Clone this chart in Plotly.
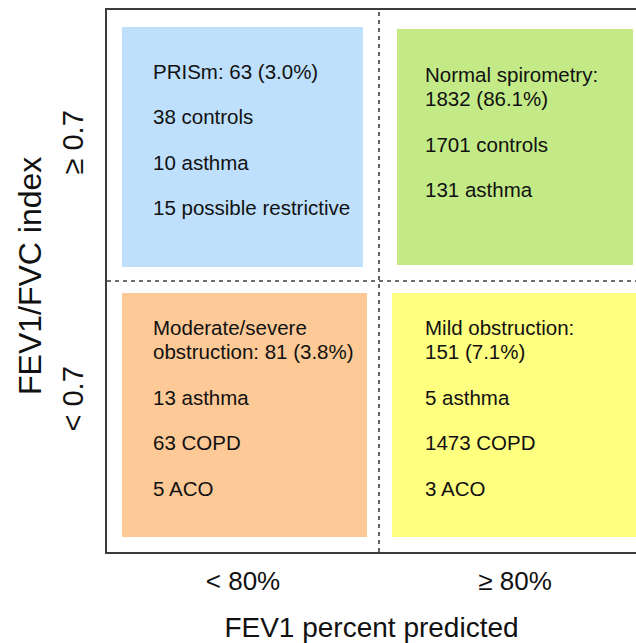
import plotly.graph_objects as go

# ---------------- data ----------------
fev1_labels = ["< 80%", "≥ 80%"]          # x categories (FEV1 percent predicted)
ratio_labels = ["< 0.7", "≥ 0.7"]         # y categories (FEV1/FVC index)

quad_col = [0, 1, 0, 1]                   # column index of each quadrant
quad_row = [1, 1, 0, 0]                   # row index of each quadrant
quad_header = [
    "PRISm: {n} ({p:.1f}%)",
    "Normal spirometry:|{n} ({p:.1f}%)",
    "Moderate/severe|obstruction: {n} ({p:.1f}%)",
    "Mild obstruction:|{n} ({p:.1f}%)",
]
quad_totals = [63, 1832, 81, 151]
quad_pcts = [3.0, 86.1, 3.8, 7.1]
sub_counts = [[38, 10, 15], [1701, 131], [13, 63, 5], [5, 1473, 3]]
sub_labels = [
    ["controls", "asthma", "possible restrictive"],
    ["controls", "asthma"],
    ["asthma", "COPD", "ACO"],
    ["asthma", "COPD", "ACO"],
]

# ---------------- style ----------------
quad_colors = ["#BEE0FC", "#C3EA87", "#FDC996", "#FFFF80"]
# box insets inside each cell (left, right, bottom, top) as fraction of the cell
box_inset = [
    (0.055, 0.059, 0.052, 0.063),
    (0.066, 0.066, 0.059, 0.070),
    (0.055, 0.044, 0.055, 0.044),
    (0.048, -0.05, 0.055, 0.044),
]
PX_X = 272.0   # px per data unit (x)
PX_Y = 271.0   # px per data unit (y)
first_line_px = [61, 64, 46, 46]
intra_px = 24.5
inter_px = 45.5
text_x_inset = 0.162
row_label_shift = [17, 3]                 # px shift of the row labels
FONT = "Liberation Sans, Arial, Helvetica, sans-serif"
INK = "#111111"
FRAME = "#3c3c3c"

fig = go.Figure()
shapes = []
annotations = []

for q in range(4):
    c, r = quad_col[q], quad_row[q]
    l, rr, b, t = box_inset[q]
    shapes.append(dict(type="rect", xref="x", yref="y",
                       x0=c + l, x1=c + 1 - rr, y0=r + b, y1=r + 1 - t,
                       fillcolor=quad_colors[q], line=dict(width=0), layer="below"))
    header = quad_header[q].format(n=quad_totals[q], p=quad_pcts[q]).split("|")
    items = [header] + [[f"{n} {lab}"] for n, lab in zip(sub_counts[q], sub_labels[q])]
    ypx = first_line_px[q]
    first = True
    for item in items:
        for k, line in enumerate(item):
            if not first:
                ypx += intra_px if k > 0 else inter_px
            first = False
            annotations.append(dict(
                x=c + text_x_inset, y=r + 1 - ypx / PX_Y, xref="x", yref="y",
                text=line, showarrow=False, xanchor="left", yanchor="middle",
                font=dict(family=FONT, size=20.5, color=INK)))

# row (FEV1/FVC) labels, rotated
for i, lab in enumerate(ratio_labels):
    annotations.append(dict(
        x=0, y=i + 0.5, xref="paper", yref="y", text=lab, textangle=-90,
        showarrow=False, xanchor="center", yanchor="middle",
        xshift=-35, yshift=row_label_shift[i],
        font=dict(family=FONT, size=29, color=INK)))
annotations.append(dict(
    x=0, y=1, xref="paper", yref="y", text="FEV1/FVC index", textangle=-90,
    showarrow=False, xanchor="center", yanchor="middle", xshift=-77, yshift=5,
    font=dict(family=FONT, size=32, color=INK)))

# quadrant divider lines (dashed)
shapes.append(dict(type="line", xref="x", yref="y", x0=1, x1=1, y0=0, y1=2,
                   line=dict(color=FRAME, width=1.6, dash="4px,4px"), layer="above"))
shapes.append(dict(type="line", xref="x", yref="y", x0=0, x1=2, y0=1, y1=1,
                   line=dict(color=FRAME, width=1.6, dash="4px,4px"), layer="above"))

# invisible trace to establish axes
fig.add_trace(go.Scatter(x=[0.5, 1.5], y=[0.5, 1.5], mode="markers",
                         marker=dict(opacity=0), hoverinfo="skip", showlegend=False))

W, H = 636, 643
ML, MT = 107, 10
MB = 643 - 552
MR = 0

fig.update_layout(
    width=W, height=H,
    margin=dict(l=ML, r=MR, t=MT, b=MB, pad=0),
    paper_bgcolor="white", plot_bgcolor="white",
    shapes=shapes, annotations=annotations,
    xaxis=dict(range=[0, (W - ML - MR) / PX_X], tickvals=[0.5, 1.5], ticktext=fev1_labels,
               showgrid=False, zeroline=False, showline=True, mirror=True,
               linecolor=FRAME, linewidth=1.6, ticks="", ticklabelstandoff=5,
               tickfont=dict(family=FONT, size=26, color=INK),
               title=dict(text="FEV1 percent predicted", standoff=27,
                          font=dict(family=FONT, size=28, color=INK)),
               fixedrange=True),
    yaxis=dict(range=[0, 2], showticklabels=False,
               showgrid=False, zeroline=False, showline=True, mirror=False,
               linecolor=FRAME, linewidth=1.6, ticks="",
               fixedrange=True),
)

fig.write_html(
    "out.html",
    config={"displayModeBar": False, "staticPlot": True},
    post_script="document.body.style.margin='0';document.body.style.overflow='hidden';",
)
